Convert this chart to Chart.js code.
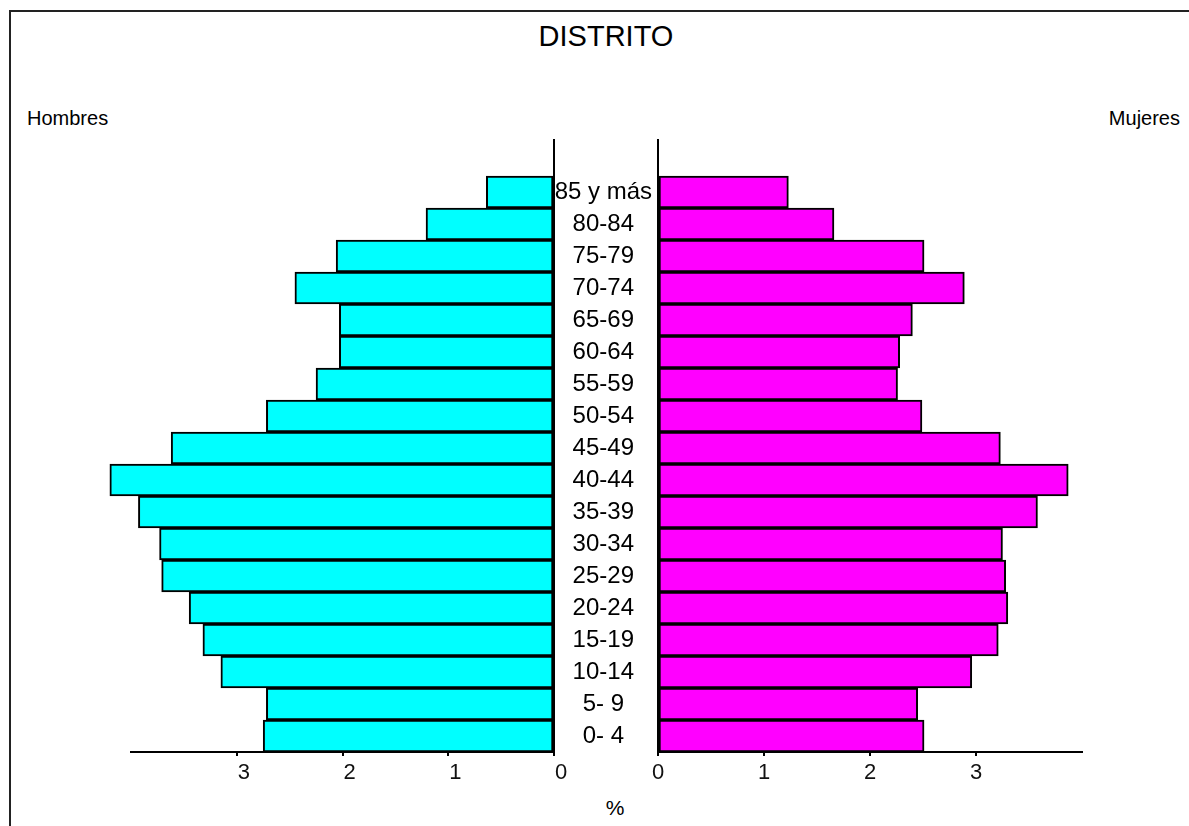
<!DOCTYPE html>
<html>
<head>
<meta charset="utf-8">
<script src="https://cdn.jsdelivr.net/npm/chart.js@4.4.1/dist/chart.umd.min.js"></script>
<style>
  html, body { margin: 0; padding: 0; background: #fff; }
  body { width: 1189px; height: 826px; position: relative; overflow: hidden;
         font-family: "Liberation Sans", Arial, sans-serif; color: #000; }
  #marco { position: absolute; left: 9px; top: 10px; right: -4px; bottom: -4px;
           border-top: 2px solid #222; border-left: 2px solid #222; }
  .texto { position: absolute; white-space: nowrap; }
  #titulo { left: 0; width: 1212px; top: 22px; font-size: 29px; line-height: 29px; text-align: center; }
  #hombres { left: 27px; top: 108px; font-size: 20px; line-height: 20px; }
  #mujeres { right: 9px; top: 108px; font-size: 20px; line-height: 20px; }
  #pct { left: 565px; width: 100px; top: 797px; font-size: 21px; line-height: 21px; text-align: center; }
  #boxH { position: absolute; left: 0; top: 0; width: 600px; height: 826px; }
  #boxM { position: absolute; left: 500px; top: 0; width: 689px; height: 826px; }
</style>
</head>
<body>
<div id="marco"></div>
<div class="texto" id="titulo">DISTRITO</div>
<div class="texto" id="hombres">Hombres</div>
<div class="texto" id="mujeres">Mujeres</div>
<div class="texto" id="pct">%</div>
<div id="boxH"><canvas id="chartH"></canvas></div>
<div id="boxM"><canvas id="chartM"></canvas></div>
<script>
'use strict';
/*------------------------------------*\
     Données (en %)
\*------------------------------------*/
var grupos = ['0- 4', '5- 9', '10-14', '15-19', '20-24', '25-29', '30-34', '35-39', '40-44',
  '45-49', '50-54', '55-59', '60-64', '65-69', '70-74', '75-79', '80-84', '85 y más'];
var hombres = [2.75, 2.72, 3.15, 3.32, 3.45, 3.71, 3.73, 3.93, 4.20,
  3.62, 2.72, 2.25, 2.03, 2.03, 2.45, 2.06, 1.21, 0.64];
var mujeres = [2.51, 2.45, 2.96, 3.21, 3.30, 3.28, 3.25, 3.58, 3.87,
  3.23, 2.49, 2.26, 2.28, 2.40, 2.89, 2.51, 1.66, 1.23];
var ejeMax = 4;
var ticksX = [0, 1, 2, 3];

var fuente = '"Liberation Sans", Arial, sans-serif';
Chart.defaults.font.family = fuente;
Chart.defaults.color = '#000';

// prolonge la ligne de l'axe vertical au-dessus des barres
var axeHaut = {
  id: 'axeHaut',
  afterDraw: function(chart) {
    var ctx = chart.ctx;
    var y = chart.scales.y;
    var x = y.position === 'left' ? y.right : y.left;
    ctx.save();
    ctx.strokeStyle = '#000';
    ctx.lineWidth = 2;
    ctx.beginPath();
    ctx.moveTo(x, chart.chartArea.top - 37);
    ctx.lineTo(x, chart.chartArea.top);
    ctx.stroke();
    ctx.restore();
  }
};

function ejeX(reverse, offset) {
  return {
    type: 'linear',
    min: 0,
    max: ejeMax,
    reverse: reverse,
    afterBuildTicks: function(scale) {
      scale.ticks = ticksX.map(function(v) { return { value: v }; });
    },
    afterFit: function(scale) { scale.height = 74; },
    ticks: { font: { size: 22 }, padding: 4, labelOffset: offset, color: '#111', maxRotation: 0 },
    grid: { drawOnChartArea: false, drawTicks: true, tickLength: 4, color: '#000', lineWidth: 2 },
    border: { display: true, color: '#000', width: 2 }
  };
}

/*------------------------------------*\
     Hombres (gauche)
\*------------------------------------*/
var chartH = new Chart(document.getElementById('chartH'), {
  type: 'bar',
  data: {
    labels: grupos,
    datasets: [{
      label: 'Hombres',
      data: hombres,
      backgroundColor: '#00FFFF',
      borderColor: '#000',
      borderWidth: 2,
      borderSkipped: false,
      categoryPercentage: 1,
      barPercentage: 1,
      clip: false
    }]
  },
  options: {
    indexAxis: 'y',
    responsive: true,
    maintainAspectRatio: false,
    animation: false,
    layout: { padding: { left: 131, right: 46, top: 176, bottom: 0 } },
    plugins: { legend: { display: false }, tooltip: { enabled: false }, title: { display: false } },
    scales: {
      x: ejeX(true, 7),
      y: {
        type: 'category',
        position: 'right',
        reverse: true,
        afterFit: function(scale) { scale.width = 0; },
        ticks: { display: false },
        grid: { display: false },
        border: { display: true, color: '#000', width: 2 }
      }
    }
  },
  plugins: [axeHaut]
});

/*------------------------------------*\
     Mujeres (droite) + étiquettes des âges
\*------------------------------------*/
var chartM = new Chart(document.getElementById('chartM'), {
  type: 'bar',
  data: {
    labels: grupos,
    datasets: [{
      label: 'Mujeres',
      data: mujeres,
      backgroundColor: '#FF00FF',
      borderColor: '#000',
      borderWidth: 2,
      borderSkipped: false,
      categoryPercentage: 1,
      barPercentage: 1,
      clip: false
    }]
  },
  options: {
    indexAxis: 'y',
    responsive: true,
    maintainAspectRatio: false,
    animation: false,
    layout: { padding: { left: 0, right: 107, top: 176, bottom: 0 } },
    plugins: { legend: { display: false }, tooltip: { enabled: false }, title: { display: false } },
    scales: {
      x: ejeX(false, 0),
      y: {
        type: 'category',
        position: 'left',
        reverse: true,
        afterFit: function(scale) { scale.width = 158; },
        ticks: { font: { size: 24 }, crossAlign: 'center', padding: 6, color: '#000', autoSkip: false },
        grid: { display: false, drawTicks: false, tickLength: 0 },
        border: { display: true, color: '#000', width: 2 }
      }
    }
  },
  plugins: [axeHaut]
});
</script>
</body>
</html>
